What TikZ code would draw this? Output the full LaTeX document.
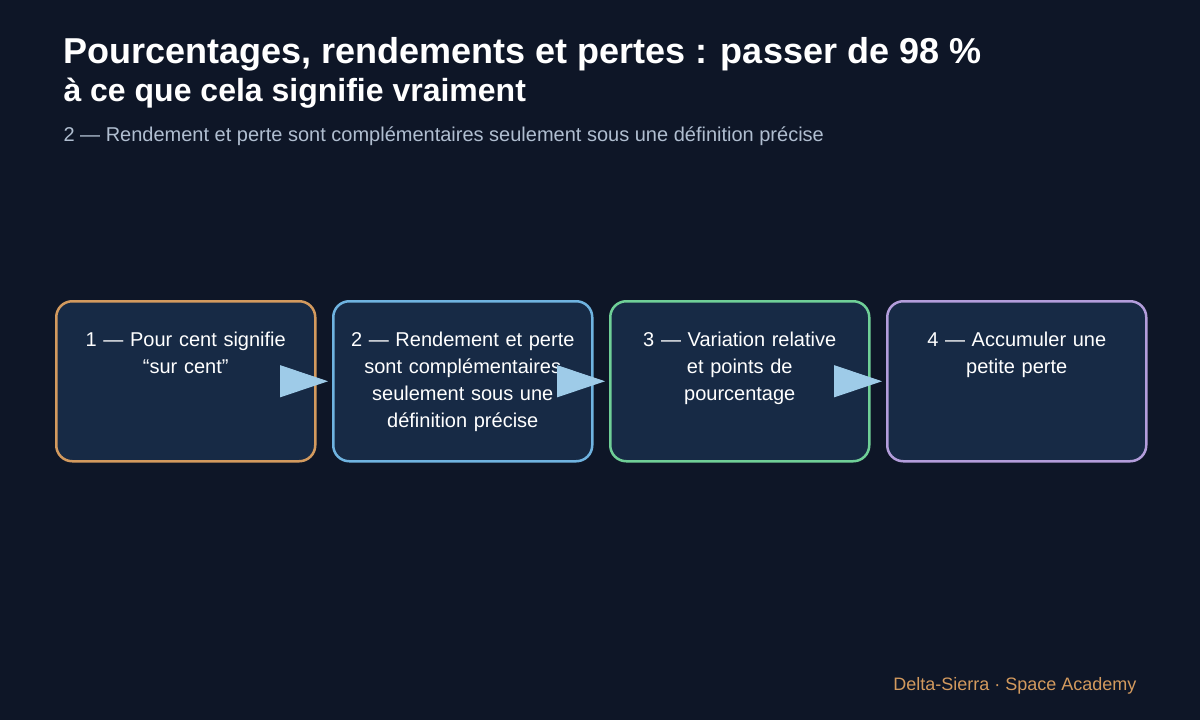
\documentclass[tikz,border=0pt]{standalone}
\usepackage{fontspec}
\setmainfont{Liberation Sans}
\usetikzlibrary{positioning,calc,arrows.meta}
\definecolor{fond}{HTML}{0E1627}
\definecolor{boite}{HTML}{172A45}
\definecolor{orangeb}{HTML}{D39A5E}
\definecolor{bleub}{HTML}{6FB3E0}
\definecolor{vertb}{HTML}{6FCF97}
\definecolor{violetb}{HTML}{B39DDB}
\definecolor{fleche}{HTML}{9ECBE8}
\definecolor{sous}{HTML}{B0BED0}
\tikzset{
    etape/.style={draw=#1, line width=2.5pt, fill=boite, rounded corners=16pt,
        minimum width=259pt, minimum height=160pt, anchor=north west},
    texte/.style={text=white, font=\fontsize{20}{27}\selectfont, align=center,
        text width=250pt, anchor=north},
    lien/.style={fleche, line width=1pt, -{Triangle[length=48pt,width=32pt]}},
}
\begin{document}
\begin{tikzpicture}[x=1pt,y=-1pt]

    \fill[fond] (0,0) rectangle (1200,720);
    \useasboundingbox (0,0) rectangle (1200,720);

    % titre
    \node[anchor=base west, text=white, font=\fontsize{36}{40}\selectfont\bfseries] (titre) at (60,63) {Pourcentages, rendements et pertes : passer de 98 \%};
    \node[anchor=base west, text=white, font=\fontsize{32}{36}\selectfont\bfseries] (titre2) at (60,101) {à ce que cela signifie vraiment};
    \node[anchor=base west, text=sous, font=\fontsize{20}{24}\selectfont] (soustitre) at (60,141) {2 — Rendement et perte sont complémentaires seulement sous une définition précise};

    % etapes
    \node[etape=orangeb] (b1) at (55,300) {};
    \node[etape=bleub] (b2) at (332,300) {};
    \node[etape=vertb] (b3) at (609,300) {};
    \node[etape=violetb] (b4) at (886,300) {};

    \node[texte] (t1) at ($(b1.north)+(0,28)$) {1 — Pour cent signifie\\“sur cent”};
    \node[texte] (t2) at ($(b2.north)+(0,28)$) {2 — Rendement et perte\\sont complémentaires\\seulement sous une\\définition précise};
    \node[texte] (t3) at ($(b3.north)+(0,28)$) {3 — Variation relative\\et points de\\pourcentage};
    \node[texte] (t4) at ($(b4.north)+(0,28)$) {4 — Accumuler une\\petite perte};

    % fleches
    \foreach \a/\b in {b1/b2,b2/b3,b3/b4}{
        \coordinate (d\a) at ($(\a.east)+(-34,0)$);
        \coordinate (f\a) at ($(\b.west)+(-4,0)$);
        \draw[lien] (d\a) -- (f\a);
    }

    \node[anchor=base east, text=orangeb, font=\fontsize{18}{22}\selectfont] (pied) at (1140,690) {Delta-Sierra · Space Academy};

\end{tikzpicture}
\end{document}
